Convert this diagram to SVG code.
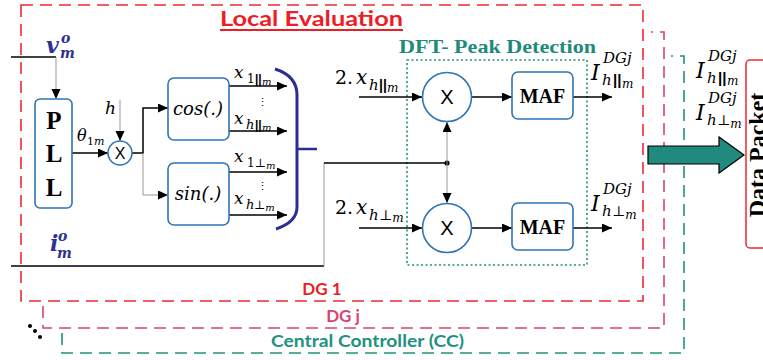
<svg xmlns="http://www.w3.org/2000/svg" width="763" height="360" viewBox="0 0 763 360">
<defs>
<marker id="ah" markerUnits="userSpaceOnUse" markerWidth="11" markerHeight="10" refX="10" refY="4.5" orient="auto">
<path d="M0,0 L10,4.5 L0,9 z" fill="#000"/>
</marker>
<style>
.blk{stroke:#000;stroke-width:1.5;fill:none}
.gry{stroke:#999;stroke-width:1;fill:none}
.box{fill:#fff;stroke:#2e75b6;stroke-width:1.6}
.mi{font-family:"DejaVu Serif",serif;font-style:italic;fill:#000}
.rm{font-family:"DejaVu Serif",serif;fill:#000}
.bar{font-family:"Liberation Sans",sans-serif;font-weight:bold;fill:#000}
.bs{font-family:"Liberation Serif",serif;font-weight:bold;fill:#000}
.sans{font-family:"Lato","Liberation Sans",sans-serif;font-weight:bold}
.x{font-family:"Liberation Sans",sans-serif;text-anchor:middle;fill:#000}
.navy{font-family:"DejaVu Serif",serif;font-weight:bold;font-style:italic;fill:#2e3192}
</style>
</defs>

<!-- frames -->
<g id="frames" fill="none" stroke-width="1.6">
<path d="M62,333 V353 H684 V56 H671" stroke="#20917f" stroke-dasharray="12,7"/>
<path d="M43,306 V328 H664 V32 H651" stroke="#d4456f" stroke-dasharray="12,7"/>
<rect x="21" y="5" width="622" height="296" stroke="#ee2a35" stroke-dasharray="12,7"/>
<rect x="407" y="60" width="180" height="205" stroke="#20917f" stroke-width="1.6" stroke-dasharray="2,2.5"/>
</g>

<!-- titles -->
<g id="titles">
<text x="220" y="26" class="sans" font-size="20" fill="#ee1c25" textLength="183" lengthAdjust="spacingAndGlyphs">Local Evaluation</text>
<line x1="220" y1="30" x2="403" y2="30" stroke="#ee1c25" stroke-width="2"/>
<text x="399" y="53" font-family="Liberation Serif,serif" font-weight="bold" font-size="19" fill="#1f8a7b" textLength="197" lengthAdjust="spacingAndGlyphs">DFT- Peak Detection</text>
<text x="322" y="295" class="sans" font-size="17" fill="#ee1c25" text-anchor="middle">DG 1</text>
<text x="343" y="322" class="sans" font-size="17" fill="#d4456f" text-anchor="middle">DG j</text>
<text x="271" y="347" class="sans" font-size="17" fill="#20917f" textLength="193" lengthAdjust="spacingAndGlyphs">Central Controller (CC)</text>
</g>

<!-- connectors -->
<g id="connectors">
<path class="blk" d="M11,57 H56"/>
<path class="gry" d="M56,57 V99" marker-end="url(#ah)"/>
<path class="blk" d="M72,153 H108" stroke-width="2" marker-end="url(#ah)"/>
<path class="gry" d="M120,100 V141" marker-end="url(#ah)"/>
<path class="blk" d="M132,153 H143 V108 H168" marker-end="url(#ah)"/>
<path class="gry" d="M143,153 V195 H168" marker-end="url(#ah)"/>
<path class="blk" d="M229,86 H287" marker-end="url(#ah)"/>
<path class="blk" d="M229,131 H287" marker-end="url(#ah)"/>
<path class="blk" d="M229,172 H287" marker-end="url(#ah)"/>
<path class="blk" d="M229,215 H287" marker-end="url(#ah)"/>
<path d="M275,69 Q297,76 297,95 V207 Q297,222 276,229" fill="none" stroke="#2b2f8f" stroke-width="3"/>
<path d="M297,149 H317" fill="none" stroke="#2b2f8f" stroke-width="2.5"/>
<path class="blk" d="M11,266 H324"/>
<path class="gry" d="M324,266 V163"/>
<path class="blk" d="M324,163 H447"/>
<circle cx="447" cy="163" r="2.6" fill="#000"/>
<path class="gry" d="M447,163 V122" marker-end="url(#ah)"/>
<path class="gry" d="M447,163 V203" marker-end="url(#ah)"/>
<path class="blk" d="M359,97 H422" marker-end="url(#ah)"/>
<path class="blk" d="M359,228 H422" marker-end="url(#ah)"/>
<path class="blk" d="M472,97 H512" marker-end="url(#ah)"/>
<path class="blk" d="M472,228 H512" marker-end="url(#ah)"/>
<path class="blk" d="M573,97 H612" marker-end="url(#ah)"/>
<path class="blk" d="M573,228 H612" marker-end="url(#ah)"/>
</g>

<!-- nodes -->
<g id="pll">
<rect class="box" x="35" y="99" width="37" height="109" rx="5"/>
<text class="bs" x="54" y="129" font-size="25" text-anchor="middle">P</text>
<text class="bs" x="54" y="162" font-size="25" text-anchor="middle">L</text>
<text class="bs" x="54" y="196" font-size="25" text-anchor="middle">L</text>
</g>
<g id="mult1">
<circle cx="120" cy="153" r="12" fill="#fff" stroke="#2e75b6" stroke-width="1.6"/>
<text class="x" x="120" y="159" font-size="16">X</text>
</g>
<g id="cos">
<rect class="box" x="168" y="78" width="61" height="62" rx="6"/>
<text class="mi" x="198" y="115" font-size="18" text-anchor="middle">cos(.)</text>
</g>
<g id="sin">
<rect class="box" x="168" y="163" width="61" height="62" rx="6"/>
<text class="mi" x="198" y="200" font-size="18" text-anchor="middle">sin(.)</text>
</g>
<g id="multU">
<circle cx="447" cy="97" r="24.5" fill="#fff" stroke="#2e75b6" stroke-width="1.6"/>
<text class="x" x="447" y="104" font-size="20">X</text>
</g>
<g id="multL">
<circle cx="447" cy="228" r="24.5" fill="#fff" stroke="#2e75b6" stroke-width="1.6"/>
<text class="x" x="447" y="235" font-size="20">X</text>
</g>
<g id="mafU">
<rect class="box" x="512" y="72" width="61" height="47" rx="6"/>
<text class="bs" x="542.5" y="103" font-size="20" text-anchor="middle">MAF</text>
</g>
<g id="mafL">
<rect class="box" x="512" y="203" width="61" height="47" rx="6"/>
<text class="bs" x="542.5" y="234" font-size="20" text-anchor="middle">MAF</text>
</g>
<g id="packet">
<rect x="746" y="60" width="40" height="188" rx="4" fill="#fff" stroke="#ee2a35" stroke-width="1.5"/>
<text class="bs" font-size="24" text-anchor="middle" transform="translate(765,155) rotate(-90)">Data Packet</text>
</g>
<g id="bigarrow">
<path d="M648,146 H719 V137 L744,155 L719,173 V164 H648 Z" fill="#1f8a7d" stroke="#000" stroke-width="1.2"/>
</g>

<!-- labels -->
<g id="labels">
<text class="navy" x="46" y="53" font-size="22">v</text>
<text class="navy" x="61" y="43" font-size="14">o</text>
<text class="navy" x="60" y="58" font-size="14">m</text>
<text class="navy" x="50" y="251" font-size="22">i</text>
<text class="navy" x="58" y="241" font-size="14">o</text>
<text class="navy" x="57" y="258" font-size="14">m</text>
<text class="mi" x="77" y="141" font-size="16">θ</text>
<text class="rm" x="87" y="145" font-size="11">1<tspan font-style="italic">m</tspan></text>
<text class="mi" x="105" y="114" font-size="17">h</text>

<text class="mi" x="234" y="78" font-size="17">x</text>
<text class="rm" x="247" y="83" font-size="12">1</text><text class="bar" x="255" y="83" font-size="12">||</text><text class="mi" x="262" y="85" font-size="10">m</text>
<text class="rm" x="257" y="106" font-size="11">⋮</text>
<text class="mi" x="234" y="124" font-size="17">x</text>
<text class="mi" x="246" y="129" font-size="13">h</text><text class="bar" x="255" y="129" font-size="12">||</text><text class="mi" x="262" y="131" font-size="10">m</text>

<text class="mi" x="234" y="162" font-size="17">x</text>
<text class="rm" x="247" y="167" font-size="12">1⊥<tspan font-style="italic" font-size="10" dy="2">m</tspan></text>
<text class="rm" x="257" y="190" font-size="11">⋮</text>
<text class="mi" x="234" y="204" font-size="17">x</text>
<text class="mi" x="246" y="209" font-size="13">h</text><text class="rm" x="254" y="209" font-size="12">⊥<tspan font-style="italic" font-size="10" dy="2">m</tspan></text>

<text class="rm" x="335" y="84" font-size="19">2.</text>
<text class="mi" x="356" y="84" font-size="20">x</text>
<text class="mi" x="369" y="90" font-size="15">h</text><text class="bar" x="379" y="90" font-size="14">||</text><text class="mi" x="387" y="92" font-size="12">m</text>

<text class="rm" x="335" y="214" font-size="19">2.</text>
<text class="mi" x="356" y="214" font-size="20">x</text>
<text class="mi" x="369" y="220" font-size="15">h</text><text class="rm" x="379" y="220" font-size="14">⊥<tspan font-style="italic" font-size="12" dy="2">m</tspan></text>

<text class="mi" x="591" y="80" font-size="22">I</text>
<text class="mi" x="603" y="63" font-size="15">DGj</text>
<text class="mi" x="602" y="85" font-size="15">h</text><text class="bar" x="613" y="85" font-size="15">||</text><text class="mi" x="622" y="88" font-size="12">m</text>

<text class="mi" x="591" y="211" font-size="22">I</text>
<text class="mi" x="603" y="194" font-size="15">DGj</text>
<text class="mi" x="602" y="216" font-size="15">h</text><text class="rm" x="612" y="216" font-size="14">⊥<tspan font-style="italic" font-size="12" dy="3">m</tspan></text>

<text class="mi" x="696" y="78" font-size="22">I</text>
<text class="mi" x="708" y="61" font-size="15">DGj</text>
<text class="mi" x="707" y="83" font-size="15">h</text><text class="bar" x="718" y="83" font-size="15">||</text><text class="mi" x="727" y="85" font-size="12">m</text>

<text class="mi" x="696" y="120" font-size="22">I</text>
<text class="mi" x="708" y="103" font-size="15">DGj</text>
<text class="mi" x="707" y="125" font-size="15">h</text><text class="rm" x="717" y="125" font-size="14">⊥<tspan font-style="italic" font-size="12" dy="3">m</tspan></text>
</g>

<g id="dots" fill="#000">
<circle cx="30" cy="326" r="2"/>
<circle cx="35" cy="331" r="2"/>
<circle cx="40" cy="337" r="2"/>
</g>
</svg>
